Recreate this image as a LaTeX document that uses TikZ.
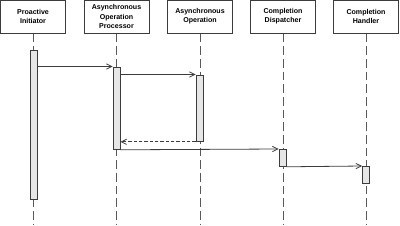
\documentclass[tikz,border=0pt]{standalone}
\usepackage{fontspec}
\setmainfont{Liberation Sans}
\usetikzlibrary{arrows.meta,positioning}
\definecolor{ink}{HTML}{3C3C3C}
\definecolor{barfill}{HTML}{E6E6E6}
\tikzset{
  actor/.style={draw=ink,line width=.75pt,fill=white,minimum width=48.75pt,minimum height=24.75pt,inner sep=1pt,align=center,font=\fontsize{5.3}{6.8}\selectfont\bfseries},
  life/.style={draw=ink!85,line width=.7pt,dash pattern=on 6.5pt off 3pt},
  act/.style={draw=ink,line width=.6pt,fill=barfill,minimum width=5.25pt,inner sep=0pt,anchor=north},
  msg/.style={draw=ink,line width=.6pt,-{Straight Barb[length=4pt,width=4pt]}},
  ret/.style={msg,dash pattern=on 2.5pt off 1.5pt}
}
\newcommand{\actor}[3]{\node[actor] (#1) at (#2,16.5) {#3};\draw[life] (#1.south) -- (#1.south |- 0,225);}
\newcommand{\activ}[4]{\node[act,minimum height=#4*0.75pt] (#1) at (#2,#3) {};}

\begin{document}
\begin{tikzpicture}[x=0.75pt,y=-0.75pt]
\useasboundingbox (0,0) rectangle (400,225);
\actor{p1}{33}{Proactive\\Initiator}
\actor{p2}{116.5}{Asynchronous\\Operation\\Processor}
\actor{p3}{200}{Asynchronous\\Operation}
\actor{p4}{283}{Completion\\Dispatcher}
\actor{p5}{366}{Completion\\Handler}
\activ{a1}{33.5}{50}{149}
\activ{a2}{116.5}{66.5}{82.5}
\activ{a3}{199.5}{74.5}{66.5}
\activ{a4}{282.5}{149}{17}
\activ{a5}{366}{166}{17}
\draw[msg] (a2.north west -| a1.east) -- (a2.north west);
\draw[msg] (a3.north west -| a2.east) -- (a3.north west);
\draw[ret] (a3.south west) -- (a3.south west -| a2.east);
\draw[msg] (a2.south east) -- (a4.north west);
\draw[msg] (a4.south east) -- (a5.north west);
\end{tikzpicture}
\end{document}
